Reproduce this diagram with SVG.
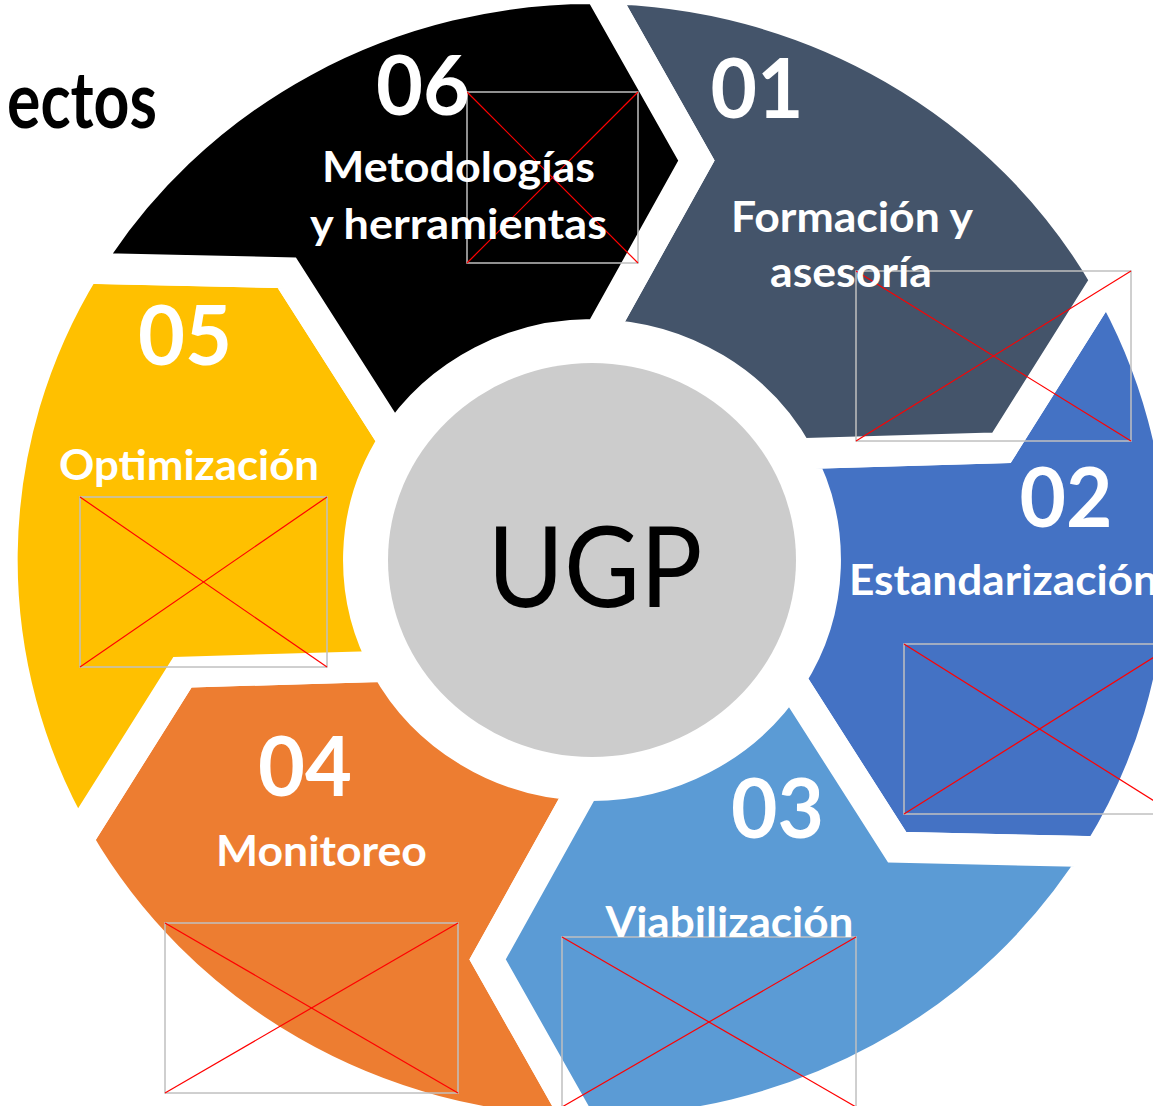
<svg xmlns="http://www.w3.org/2000/svg" width="1153" height="1106" viewBox="0 0 1153 1106">
<style>
.seg{stroke:#fff;stroke-width:31;stroke-linejoin:miter;stroke-miterlimit:10}
.num{font-family:Lato,"Open Sans","Liberation Sans",sans-serif;font-weight:700;font-size:82px;fill:#fff;text-anchor:middle}
.lbl{font-family:Lato,"Open Sans","Liberation Sans",sans-serif;font-weight:700;font-size:42px;fill:#fff;text-anchor:middle}
.ttl{font-family:Lato,"Open Sans","Liberation Sans",sans-serif;font-weight:700;font-size:78px;fill:#000;text-anchor:end}
.ugp{font-family:Lato,"Open Sans","Liberation Sans",sans-serif;font-weight:400;font-size:112px;fill:#000;text-anchor:middle}
.ph rect{fill:none;stroke:#C0C0C0;stroke-width:1.5}
.ph line{stroke:#FF0000;stroke-width:1.2}
</style>
<rect width="1153" height="1106" fill="#fff"/>
<text class="ttl" x="157" y="128" textLength="150" lengthAdjust="spacingAndGlyphs">ectos</text>
<g id="node-02">
<path class="seg" fill="#4472C4" transform="translate(592 560) scale(1.033 1)" d="M498.39,-279.68 A571.5,571.5 0 0 1 491.40,291.77 L295.37,287.23 L191.52,119.05 A225.5,225.5 0 0 0 198.86,-106.32 L396.43,-112.18 Z"/>
<g class="ph"><rect x="904" y="644" width="271" height="170"/><line x1="904" y1="644" x2="1175" y2="814"/><line x1="904" y1="814" x2="1175" y2="644"/></g>
<text class="num" x="1066" y="527" textLength="93" lengthAdjust="spacingAndGlyphs">02</text>
<text class="lbl" x="849" y="595" style="text-anchor:start" textLength="309" lengthAdjust="spacingAndGlyphs">Estandarización</text>
</g>
<g id="node-01">
<path class="seg" fill="#44546A" transform="translate(592 560) scale(1.033 1)" d="M6.98,-571.46 A571.5,571.5 0 0 1 498.39,-279.68 L396.43,-112.18 L198.86,-106.32 A225.5,225.5 0 0 0 7.36,-225.38 L101.07,-399.41 Z"/>
<g class="ph"><rect x="856" y="271" width="275" height="170"/><line x1="856" y1="271" x2="1131" y2="441"/><line x1="856" y1="441" x2="1131" y2="271"/></g>
<text class="num" x="757" y="118" textLength="93" lengthAdjust="spacingAndGlyphs">01</text>
<text class="lbl" x="852" y="232" textLength="242" lengthAdjust="spacingAndGlyphs">Formación y</text>
<text class="lbl" x="851" y="287" textLength="162" lengthAdjust="spacingAndGlyphs">asesoría</text>
</g>
<g id="node-04">
<path class="seg" fill="#ED7D31" transform="translate(592 560) scale(1.033 1)" d="M-6.98,571.46 A571.5,571.5 0 0 1 -498.39,279.68 L-396.43,112.18 L-198.86,106.32 A225.5,225.5 0 0 0 -7.36,225.38 L-101.07,399.41 Z"/>
<g class="ph"><rect x="165" y="923" width="293" height="170"/><line x1="165" y1="923" x2="458" y2="1093"/><line x1="165" y1="1093" x2="458" y2="923"/></g>
<text class="num" x="305" y="796" textLength="94" lengthAdjust="spacingAndGlyphs">04</text>
<text class="lbl" x="321.5" y="866" textLength="211" lengthAdjust="spacingAndGlyphs">Monitoreo</text>
</g>
<g id="node-03">
<path class="seg" fill="#5B9BD5" transform="translate(592 560) scale(1.033 1)" d="M491.40,291.77 A571.5,571.5 0 0 1 -6.98,571.46 L-101.07,399.41 L-7.36,225.38 A225.5,225.5 0 0 0 191.52,119.05 L295.37,287.23 Z"/>
<g class="ph"><rect x="562" y="937" width="294" height="170"/><line x1="562" y1="937" x2="856" y2="1107"/><line x1="562" y1="1107" x2="856" y2="937"/></g>
<text class="num" x="777.5" y="838" textLength="93" lengthAdjust="spacingAndGlyphs">03</text>
<text class="lbl" x="729.5" y="937" textLength="248" lengthAdjust="spacingAndGlyphs">Viabilización</text>
</g>
<g id="node-05">
<path class="seg" fill="#FFC000" transform="translate(592 560) scale(1.033 1)" d="M-498.39,279.68 A571.5,571.5 0 0 1 -491.40,-291.77 L-295.37,-287.23 L-191.52,-119.05 A225.5,225.5 0 0 0 -198.86,106.32 L-396.43,112.18 Z"/>
<g class="ph"><rect x="80" y="497" width="247" height="170"/><line x1="80" y1="497" x2="327" y2="667"/><line x1="80" y1="667" x2="327" y2="497"/></g>
<text class="num" x="185" y="365" textLength="94" lengthAdjust="spacingAndGlyphs">05</text>
<text class="lbl" x="189" y="480" textLength="260" lengthAdjust="spacingAndGlyphs">Optimización</text>
</g>
<g id="node-06">
<path class="seg" fill="#000000" transform="translate(592 560) scale(1.033 1)" d="M-491.40,-291.77 A571.5,571.5 0 0 1 6.98,-571.46 L101.07,-399.41 L7.36,-225.38 A225.5,225.5 0 0 0 -191.52,-119.05 L-295.37,-287.23 Z"/>
<g class="ph"><rect x="467" y="92" width="171" height="171"/><line x1="467" y1="92" x2="638" y2="263"/><line x1="467" y1="263" x2="638" y2="92"/></g>
<text class="num" x="423" y="115" textLength="94" lengthAdjust="spacingAndGlyphs">06</text>
<text class="lbl" x="458.5" y="182" textLength="273" lengthAdjust="spacingAndGlyphs">Metodologías</text>
<text class="lbl" x="458.5" y="239" textLength="297" lengthAdjust="spacingAndGlyphs">y herramientas</text>
</g>
<g id="node-ugp">
<ellipse cx="592" cy="560" rx="204" ry="197" fill="#CCCCCC"/>
<text class="ugp" x="595" y="607" textLength="215" lengthAdjust="spacingAndGlyphs">UGP</text>
</g>
<g id="connectors"/>
</svg>
